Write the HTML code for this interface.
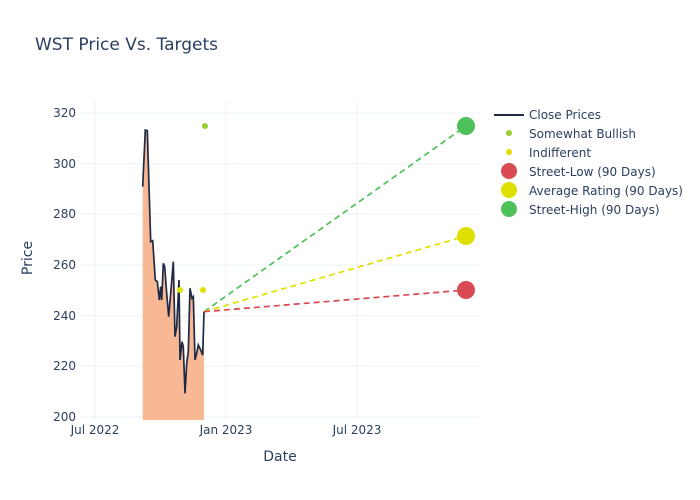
<!DOCTYPE html>
<html><head><meta charset="utf-8"><style>
body{margin:0;background:#fff}
svg{display:block;font-family:"DejaVu Sans","Liberation Sans",sans-serif}
</style></head><body>
<svg width="700" height="500" viewBox="0 0 700 500">
<rect width="700" height="500" fill="#fff"/>
<g stroke="#ebf0f8" stroke-width="1">
<line x1="80" x2="480" y1="417" y2="417"/>
<line x1="80" x2="480" y1="366.3" y2="366.3"/>
<line x1="80" x2="480" y1="315.7" y2="315.7"/>
<line x1="80" x2="480" y1="265" y2="265"/>
<line x1="80" x2="480" y1="214.3" y2="214.3"/>
<line x1="80" x2="480" y1="163.7" y2="163.7"/>
<line x1="80" x2="480" y1="113" y2="113"/>
<line x1="95" x2="95" y1="100" y2="420"/>
<line x1="226" x2="226" y1="100" y2="420"/>
<line x1="357" x2="357" y1="100" y2="420"/>
</g>
<path d="M142.7,186.7 L145.3,130 L147.3,130.7 L150.7,241.7 L152.7,240.7 L155.3,280 L157.3,281.7 L159.3,300 L160.7,286.7 L161.7,300 L163.3,263.3 L164.7,266.7 L166.7,293.3 L168.7,316.7 L170.7,293.3 L173.3,261.7 L175,336.7 L176.7,326.7 L179,280 L180,360 L182,341.7 L183.3,346.7 L185,393.3 L186.7,363.3 L188.3,351.7 L190,288.3 L192,298.3 L193.3,296.7 L195,360 L196.7,353.3 L198.3,345 L200.7,350 L202.7,355 L204,311.7 L204,420 L142.7,420 Z" fill="#f9b894" stroke="none"/>
<path d="M142.7,186.7 L145.3,130 L147.3,130.7 L150.7,241.7 L152.7,240.7 L155.3,280 L157.3,281.7 L159.3,300 L160.7,286.7 L161.7,300 L163.3,263.3 L164.7,266.7 L166.7,293.3 L168.7,316.7 L170.7,293.3 L173.3,261.7 L175,336.7 L176.7,326.7 L179,280 L180,360 L182,341.7 L183.3,346.7 L185,393.3 L186.7,363.3 L188.3,351.7 L190,288.3 L192,298.3 L193.3,296.7 L195,360 L196.7,353.3 L198.3,345 L200.7,350 L202.7,355 L204,311.7" fill="none" stroke="#1f2a44" stroke-width="1.7"/>
<line x1="204" y1="311.7" x2="466" y2="126" stroke="#4ec15a" stroke-width="1.7" stroke-dasharray="6,4"/>
<line x1="204" y1="311.7" x2="466" y2="236" stroke="#e0e000" stroke-width="1.7" stroke-dasharray="6,4"/>
<line x1="204" y1="311.7" x2="466" y2="290" stroke="#d94a52" stroke-width="1.7" stroke-dasharray="6,4"/>
<circle cx="205" cy="126" r="3" fill="#9acd32"/>
<circle cx="180" cy="290" r="3" fill="#e0e000"/>
<circle cx="203" cy="290" r="3" fill="#e0e000"/>
<circle cx="466" cy="290" r="9" fill="#d94a52"/>
<circle cx="466" cy="236" r="9" fill="#e0e000"/>
<circle cx="466" cy="126" r="9" fill="#4ec15a"/>
<g fill="#2a3f5f" font-size="12" text-anchor="end">
<text x="76" y="421">200</text><text x="76" y="370">220</text><text x="76" y="320">240</text><text x="76" y="269">260</text><text x="76" y="218">280</text><text x="76" y="168">300</text><text x="76" y="117">320</text>
</g>
<g fill="#2a3f5f" font-size="12" text-anchor="middle">
<text x="95" y="434">Jul 2022</text><text x="226" y="434">Jan 2023</text><text x="357" y="434">Jul 2023</text>
<text x="280" y="461" font-size="14">Date</text>
</g>
<text x="32" y="258" transform="rotate(-90 32 258)" fill="#2a3f5f" font-size="14" text-anchor="middle">Price</text>
<text x="35" y="50" fill="#2a3f5f" font-size="17">WST Price Vs. Targets</text>
<g fill="#2a3f5f" font-size="12">
<line x1="494" x2="524" y1="115" y2="115" stroke="#1f2a44" stroke-width="2"/>
<text x="529" y="119">Close Prices</text>
<circle cx="509" cy="133" r="3" fill="#9acd32"/><text x="529" y="138">Somewhat Bullish</text>
<circle cx="509" cy="152" r="3" fill="#e0e000"/><text x="529" y="157">Indifferent</text>
<circle cx="509" cy="171" r="8" fill="#d94a52"/><text x="529" y="176">Street-Low (90 Days)</text>
<circle cx="509" cy="190" r="8" fill="#e0e000"/><text x="529" y="195">Average Rating (90 Days)</text>
<circle cx="509" cy="209" r="8" fill="#4ec15a"/><text x="529" y="214">Street-High (90 Days)</text>
</g>
</svg>
</body></html>
